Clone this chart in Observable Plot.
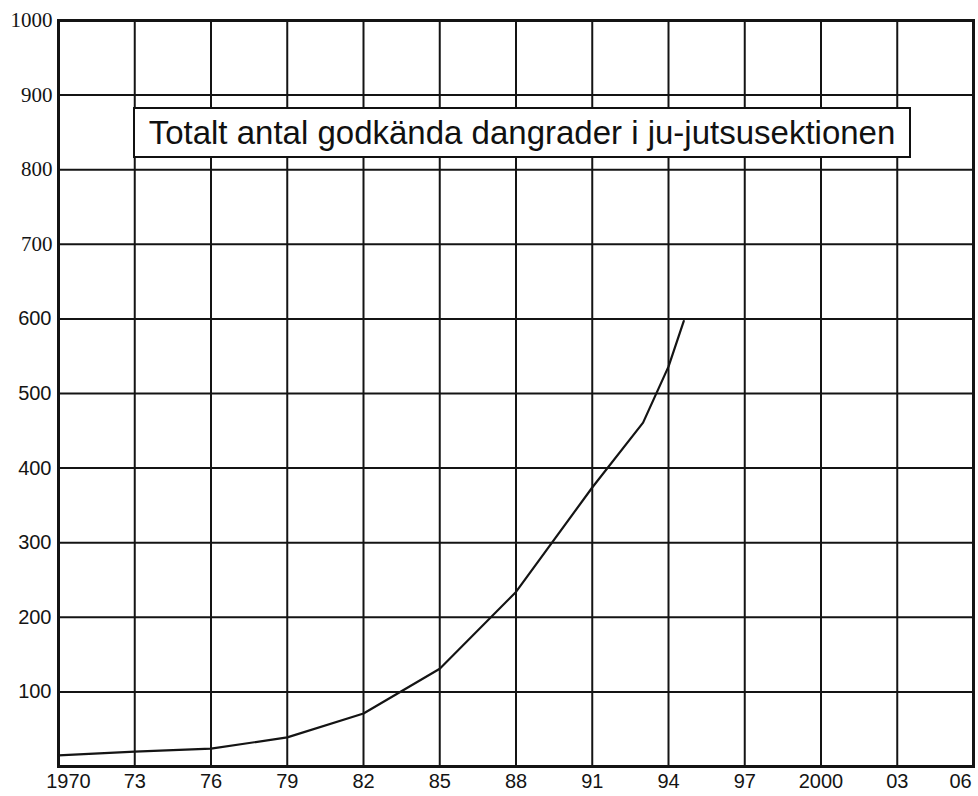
<!DOCTYPE html>
<html>
<head>
<meta charset="utf-8">
<script src="https://cdn.jsdelivr.net/npm/d3@7"></script>
<script src="https://cdn.jsdelivr.net/npm/@observablehq/plot@0.6"></script>
<style>
  html, body { margin: 0; padding: 0; background: #fff; }
  #wrap { position: relative; width: 978px; height: 796px; }
  #title {
    position: absolute; left: 133px; top: 107px; width: 774px; height: 47px;
    border: 2px solid #111; background: #fff;
    font-family: "Liberation Sans", Arial, sans-serif; font-size: 33px; color: #111;
    display: flex; align-items: center; justify-content: center; box-sizing: content-box;
  }
</style>
</head>
<body>
<div id="wrap"></div>
<script>
// Data
const years  = [1970, 1973, 1976, 1979, 1982, 1985, 1988, 1991, 1993, 1994, 1994.6];
const values = [15,   20,   24,   39,   71,   131,  234,  374,  461,  536,  597];

const xTickValues = [1970, 1973, 1976, 1979, 1982, 1985, 1988, 1991, 1994, 1997, 2000, 2003, 2006];
const xTickLabels = ["1970", "73", "76", "79", "82", "85", "88", "91", "94", "97", "2000", "03", "06"];
const yTickValues = [100, 200, 300, 400, 500, 600, 700, 800, 900, 1000];
const yTickLabels = ["100", "200", "300", "400", "500", "600", "700", "800", "900", "1000"];
const titleText = "Totalt antal godkända dangrader i ju-jutsusektionen";

const data = years.map((y, i) => ({year: y, value: values[i]}));
const xLabel = d => xTickLabels[xTickValues.indexOf(d)];
const yLabel = d => yTickLabels[yTickValues.indexOf(d)];

const ink = "#141414";
const sans = "'Liberation Sans', Arial, sans-serif";
const serif = "'Liberation Serif', 'Times New Roman', serif";

const xMid = xTickValues.slice(1, -1);
const yLow = yTickValues.filter(v => v <= 600);
const yHigh = yTickValues.filter(v => v > 600);

const axX = (ticks, dx) => Plot.axisX(ticks, {tickSize: 0, tickPadding: 7, tickFormat: xLabel, fontSize: 20, fontFamily: sans, fill: ink, dx, label: null});

const chart = Plot.plot({
  width: 978,
  height: 796,
  marginLeft: 58,
  marginRight: 5,
  marginTop: 20,
  marginBottom: 30,
  style: {background: "#fff", color: ink},
  x: {domain: [1970, 2006], axis: null},
  y: {domain: [0, 1000], axis: null},
  marks: [
    Plot.gridX(xTickValues, {stroke: ink, strokeOpacity: 1, strokeWidth: 2}),
    Plot.gridY(yTickValues, {stroke: ink, strokeOpacity: 1, strokeWidth: 2}),
    Plot.frame({stroke: ink, strokeWidth: 3}),
    Plot.line(data, {x: "year", y: "value", stroke: ink, strokeWidth: 2.2}),
    axX(xMid, 0),
    axX([xTickValues[0]], 10),
    axX([xTickValues[xTickValues.length - 1]], -13),
    Plot.axisY(yLow, {tickSize: 0, tickPadding: 7, tickFormat: yLabel, fontSize: 20, fontFamily: sans, fill: ink, label: null}),
    Plot.axisY(yHigh, {tickSize: 0, tickPadding: 6, tickFormat: yLabel, fontSize: 21, fontFamily: serif, fill: ink, label: null})
  ]
});

const wrap = document.getElementById("wrap");
wrap.appendChild(chart);
const t = document.createElement("div");
t.id = "title";
t.textContent = titleText;
wrap.appendChild(t);
</script>
</body>
</html>
